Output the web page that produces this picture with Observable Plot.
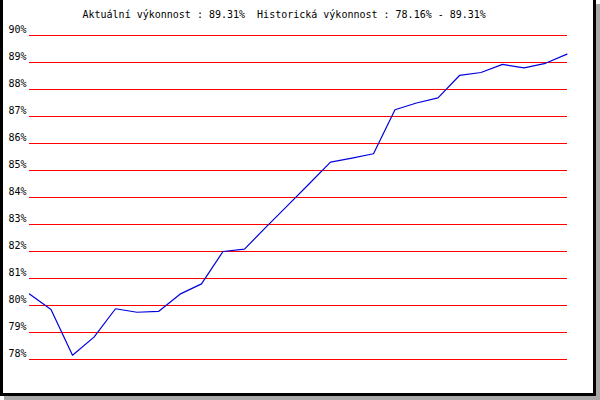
<!DOCTYPE html>
<html>
<head>
<meta charset="utf-8">
<script src="https://cdn.jsdelivr.net/npm/d3@7"></script>
<script src="https://cdn.jsdelivr.net/npm/@observablehq/plot@0.6"></script>
<style>
  html, body { margin: 0; padding: 0; background: #fff; }
  #wrap { position: relative; width: 600px; height: 400px; overflow: hidden; }
  #wrap svg { position: absolute; left: 0; top: 0; }
  #border {
    position: absolute; left: 0; top: 0; width: 596px; height: 396px;
    box-sizing: border-box;
    border-left: 3px solid #000; border-right: 3px solid #000; border-bottom: 3px solid #000;
    box-shadow: 4px 4px 0 #a8a8a8;
    pointer-events: none;
  }
</style>
</head>
<body>
<div id="wrap"><div id="border"></div></div>
<script>
const titleText = "Aktuální výkonnost : 89.31%  Historická výkonnost : 78.16% - 89.31%";
const yTicks = [78, 79, 80, 81, 82, 83, 84, 85, 86, 87, 88, 89, 90];
const performance = [
  80.43, 79.85, 78.16, 78.83, 79.88, 79.75, 79.78, 80.42, 80.80, 82.00,
  82.09, 82.90, 83.70, 84.50, 85.31, 85.46, 85.62, 87.25, 87.50, 87.69,
  88.52, 88.63, 88.93, 88.80, 88.97, 89.31
];
const data = performance.map((v, i) => ({i, v}));

const chart = Plot.plot({
  width: 600,
  height: 400,
  marginLeft: 29,
  marginRight: 33.5,
  marginTop: 35,
  marginBottom: 41,
  style: {fontFamily: "'DejaVu Sans Mono', monospace", fontSize: "10px", color: "#000", background: "transparent"},
  x: {domain: [0, performance.length - 1], axis: null},
  y: {domain: [78, 90], axis: null},
  marks: [
    Plot.ruleY(yTicks, {stroke: "#ff0000", strokeWidth: 1, shapeRendering: "crispEdges"}),
    Plot.axisY(yTicks, {label: null, tickSize: 0, tickPadding: 3, dy: -6, tickFormat: d => d + "%", fill: "#000", fontSize: 10}),
    Plot.line(data, {x: "i", y: "v", stroke: "#0000dd", strokeWidth: 1.2}),
    Plot.text([titleText], {frameAnchor: "top-left", text: d => d, textAnchor: "start", lineAnchor: "bottom", dx: 53, dy: -18, fill: "#000", fontSize: 10})
  ]
});
document.getElementById("wrap").prepend(chart);
</script>
</body>
</html>
